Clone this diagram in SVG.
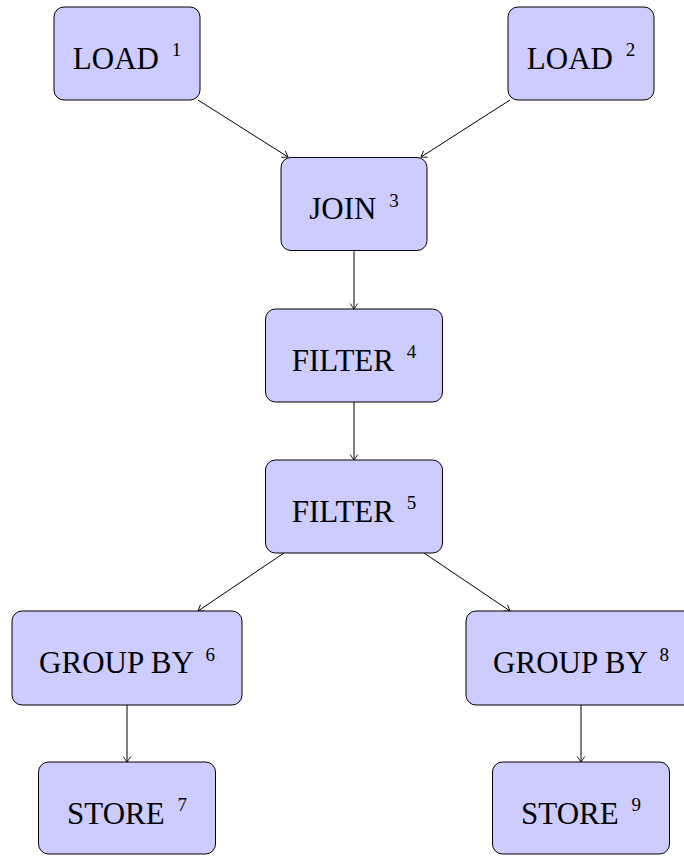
<svg xmlns="http://www.w3.org/2000/svg" width="684" height="856" viewBox="0 0 684 856">
  <defs>
    <style>
      .node rect { fill: #ccccff; stroke: #000; stroke-width: 1; }
      .node text { font-family: "Liberation Serif", "Times New Roman", serif; font-size: 31px; fill: #000; text-anchor: middle; }
      .node tspan.sup { font-size: 19px; }
      .edges line { stroke: #000; stroke-width: 1; fill: none; marker-end: url(#to); }
    </style>
    <marker id="to" viewBox="-7 -5 8 10" markerWidth="8" markerHeight="10" refX="0" refY="0" orient="auto" markerUnits="userSpaceOnUse">
      <path d="M-5.5,-3.8 Q-1.8,-1.2 0,0 Q-1.8,1.2 -5.5,3.8" fill="none" stroke="#000" stroke-width="0.9"/>
    </marker>
  </defs>
  <rect width="684" height="856" fill="#fff"/>

  <g class="edges">
    <line x1="198" y1="100" x2="288" y2="157"/>
    <line x1="510" y1="100" x2="421" y2="157"/>
    <line x1="354" y1="251" x2="354" y2="309"/>
    <line x1="354" y1="402" x2="354" y2="460"/>
    <line x1="284" y1="553" x2="198" y2="611"/>
    <line x1="424" y1="553" x2="510" y2="611"/>
    <line x1="127" y1="705" x2="127" y2="762"/>
    <line x1="581" y1="705" x2="581" y2="762"/>
  </g>

  <g id="load1" class="node">
    <rect x="54" y="7" width="146" height="93" rx="10"/>
    <text x="127" y="68.5">LOAD <tspan class="sup" dx="5" dy="-12.5">1</tspan></text>
  </g>
  <g id="load2" class="node">
    <rect x="508" y="7" width="146" height="93" rx="10"/>
    <text x="581" y="68.5">LOAD <tspan class="sup" dx="5" dy="-12.5">2</tspan></text>
  </g>
  <g id="join3" class="node">
    <rect x="281" y="157.5" width="146" height="93" rx="10"/>
    <text x="354" y="219">JOIN <tspan class="sup" dx="5" dy="-12.5">3</tspan></text>
  </g>
  <g id="filter4" class="node">
    <rect x="265.5" y="309" width="177" height="93" rx="10"/>
    <text x="354" y="370.5">FILTER <tspan class="sup" dx="5" dy="-12.5">4</tspan></text>
  </g>
  <g id="filter5" class="node">
    <rect x="265.5" y="460" width="177" height="93" rx="10"/>
    <text x="354" y="521.5">FILTER <tspan class="sup" dx="5" dy="-12.5">5</tspan></text>
  </g>
  <g id="groupby6" class="node">
    <rect x="12" y="611" width="230" height="94" rx="10"/>
    <text x="127" y="673">GROUP BY <tspan class="sup" dx="5" dy="-12.5">6</tspan></text>
  </g>
  <g id="groupby8" class="node">
    <rect x="466" y="611" width="230" height="94" rx="10"/>
    <text x="581" y="673">GROUP BY <tspan class="sup" dx="5" dy="-12.5">8</tspan></text>
  </g>
  <g id="store7" class="node">
    <rect x="38.5" y="762" width="177" height="92" rx="10"/>
    <text x="127" y="823.5">STORE <tspan class="sup" dx="5" dy="-12.5">7</tspan></text>
  </g>
  <g id="store9" class="node">
    <rect x="492.5" y="762" width="177" height="92" rx="10"/>
    <text x="581" y="823.5">STORE <tspan class="sup" dx="5" dy="-12.5">9</tspan></text>
  </g>
</svg>
